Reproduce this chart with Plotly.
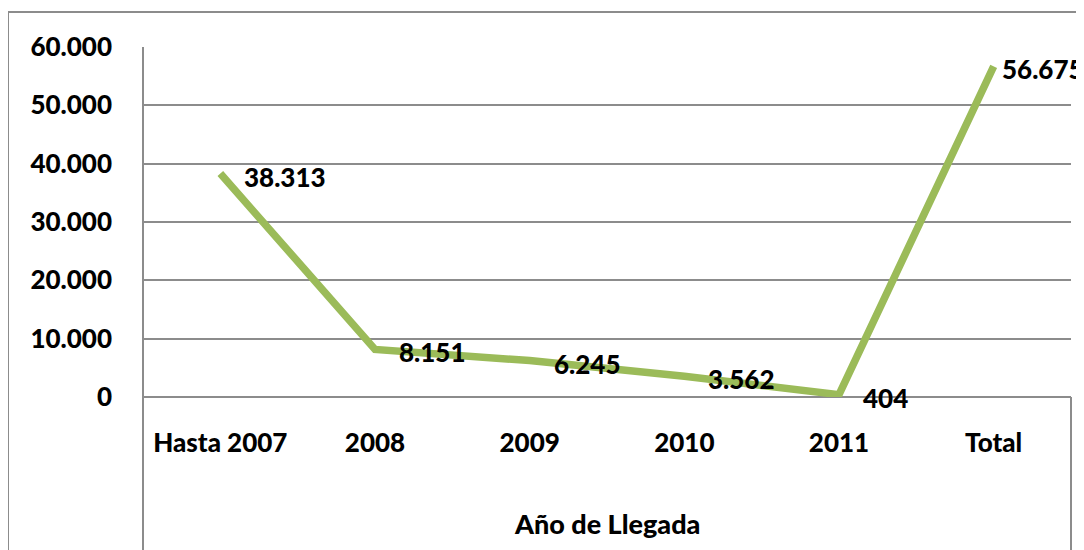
import plotly.graph_objects as go

categories = ["Hasta 2007", "2008", "2009", "2010", "2011", "Total"]
values = [38313, 8151, 6245, 3562, 404, 56675]
y_ticks = [0, 10000, 20000, 30000, 40000, 50000, 60000]
x_title = "Año de Llegada"

FONT = "Lato"
WEIGHT = 900
GRID = "#8c8c8c"

def fmt(v):
    return f"{v:,}".replace(",", ".")

fig = go.Figure()
fig.add_trace(go.Scatter(
    x=list(range(len(categories))), y=values, mode="lines",
    line=dict(color="#9BBB59", width=7.5),
    hoverinfo="skip", showlegend=False,
))

annotations = []
for i, v in enumerate(values):
    last = i == len(values) - 1
    annotations.append(dict(
        x=i, y=v, xref="x", yref="y", text=fmt(v), showarrow=False,
        xanchor="left", yanchor="middle",
        xshift=6 if last else 22, yshift=-3,
        font=dict(family=FONT, size=26, color="black", weight=WEIGHT),
    ))

# page body has an 8px margin; positions below are page pixels minus 8
OFF = 8
W, H = 1084 - OFF, 550 - OFF
L, R, T, B = 143 - OFF, 13, 47 - OFF, 153
pw, ph = W - L - R, H - T - B

def px(xpix):
    return (xpix - OFF - L) / pw

def py(ypix):
    return 1 - (ypix - OFF - T) / ph

annotations.append(dict(
    x=0.5, y=py(523), xref="paper", yref="paper", text=x_title, showarrow=False,
    xanchor="center", yanchor="middle",
    font=dict(family=FONT, size=27, color="black", weight=WEIGHT),
))

line_style = dict(color=GRID, width=2)
shapes = [
    # outer chart border
    dict(type="line", xref="paper", yref="paper", x0=px(8), x1=px(1100), y0=py(12), y1=py(12), line=line_style),
    dict(type="line", xref="paper", yref="paper", x0=px(8), x1=px(8), y0=py(12), y1=py(570), line=line_style),
    # extended category table lines
    dict(type="line", xref="paper", yref="paper", x0=0, x1=0, y0=1, y1=py(570), line=line_style),
    dict(type="line", xref="paper", yref="paper", x0=1, x1=1, y0=0, y1=py(570), line=line_style),
]

fig.update_layout(
    width=W, height=H,
    margin=dict(l=L, r=R, t=T, b=B, autoexpand=False),
    paper_bgcolor="white", plot_bgcolor="white",
    separators=",.",
    annotations=annotations,
    shapes=shapes,
    xaxis=dict(
        range=[-0.5, len(categories) - 0.5],
        tickvals=list(range(len(categories))), ticktext=categories,
        showgrid=False, zeroline=False, showline=False,
        ticks="", ticklabelstandoff=28,
        tickfont=dict(family=FONT, size=26, color="black", weight=WEIGHT),
    ),
    yaxis=dict(
        range=[0, 60000], tickvals=y_ticks, tickformat=",d",
        showgrid=True, gridcolor=GRID, gridwidth=2,
        zeroline=True, zerolinecolor=GRID, zerolinewidth=2,
        showline=False, ticks="", ticklabelstandoff=30,
        tickfont=dict(family=FONT, size=26, color="black", weight=WEIGHT),
    ),
)

fig.write_html("out.html")
